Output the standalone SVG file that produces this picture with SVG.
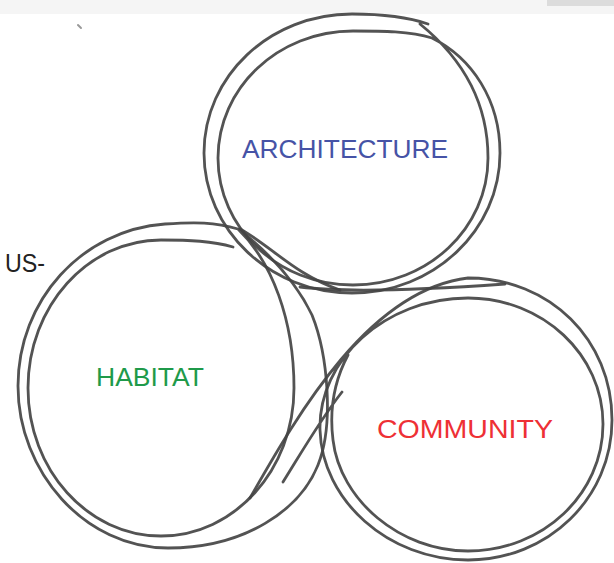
<svg xmlns="http://www.w3.org/2000/svg" width="614" height="563" viewBox="0 0 614 563">
<style>
.sk{fill:none;stroke:#444444;stroke-width:2.8;stroke-linecap:round;stroke-linejoin:round;opacity:0.92}
.lbl{font-family:"Liberation Sans",Arial,sans-serif;font-size:26px}
</style>
<rect width="614" height="563" fill="#ffffff"/>
<rect width="614" height="14" fill="#f5f5f5"/>
<rect x="547" y="0" width="67" height="6" fill="#dcdcdc"/>
<line x1="78" y1="25" x2="81" y2="28" stroke="#999" stroke-width="2" stroke-linecap="round"/>
<g id="connectors"/>
<g id="architecture">
<path class="sk" d="M428,24 C405,16 380,14 352,14 C270,14 204,76 204,153 C204,230 270,293 352,293 C434,293 500,230 500,153 C500,100 472,58 432,38 C410,31 382,31 353,31 C278,31 218,88 218,158 C218,228 278,285 353,285 C428,285 488,228 488,158 C488,102 462,58 420,24"/>
<text class="lbl" x="242" y="158" fill="#4653a6" textLength="206" lengthAdjust="spacingAndGlyphs">ARCHITECTURE</text>
</g>
<g id="habitat">
<path class="sk" d="M233,247 C212,241 190,240 161,240 C88,240 28,306 28,388 C28,470 88,536 161,536 C234,536 294,470 294,388 C294,320 272,262 238,229 C215,222 195,222 165,224 C82,230 18,300 18,386 C18,472 85,548 168,548 C245,548 300,510 318,465 C334,425 328,355 312,315 C300,290 280,262 240,230 M300,287 C340,292 420,290 505,284"/>
<path class="sk" d="M240,229 C270,245 295,275 340,290"/>
<text class="lbl" x="96" y="386" fill="#1f9a4a" textLength="108" lengthAdjust="spacingAndGlyphs">HABITAT</text>
</g>
<g id="community">
<path class="sk" d="M250,498 C300,410 370,290 468,278 C550,278 612,340 612,420 C612,498 548,560 468,560 C388,560 322,500 320,430 C318,360 385,298 468,298 C543,298 603,355 603,424 C603,494 543,551 468,551 C400,551 340,500 333,440 C328,400 340,370 348,355 M283,482 C300,455 320,420 342,392"/>
<text class="lbl" x="377" y="438" fill="#ee3035" textLength="176" lengthAdjust="spacingAndGlyphs">COMMUNITY</text>
</g>
<g id="us">
<text class="lbl" x="5" y="272" fill="#222222" textLength="40" lengthAdjust="spacingAndGlyphs">US-</text>
</g>
</svg>
